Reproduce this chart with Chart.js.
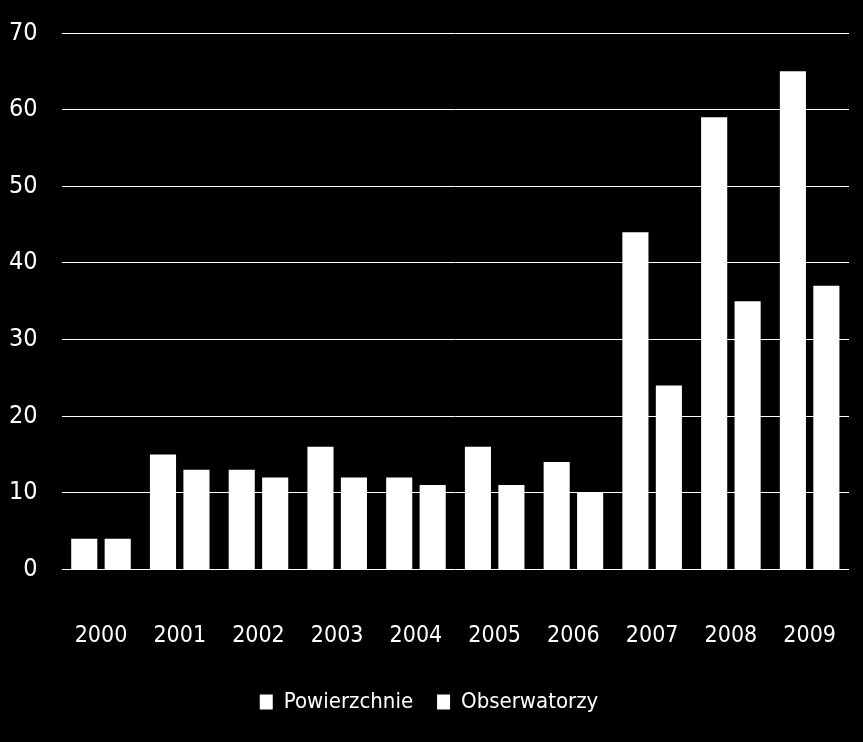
<!DOCTYPE html>
<html>
<head>
<meta charset="utf-8">
<script src="https://cdn.jsdelivr.net/npm/chart.js@4/dist/chart.umd.min.js"></script>
<style>
  html, body { margin: 0; padding: 0; background: #000; overflow: hidden; }
  #wrap { width: 863px; height: 742px; }
</style>
</head>
<body>
<div id="wrap"><canvas id="chart" width="863" height="742"></canvas></div>
<script>
const years = ["2000", "2001", "2002", "2003", "2004", "2005", "2006", "2007", "2008", "2009"];
const powierzchnie = [4, 15, 13, 16, 12, 16, 14, 44, 59, 65];
const obserwatorzy = [4, 13, 12, 12, 11, 11, 10, 24, 35, 37];

const FONT = "'Liberation Sans Narrow', 'DejaVu Sans Condensed', 'Liberation Sans', sans-serif";

new Chart(document.getElementById("chart"), {
  type: "bar",
  data: {
    labels: years,
    datasets: [
      { label: "Powierzchnie", data: powierzchnie, backgroundColor: "#fff" },
      { label: "Obserwatorzy", data: obserwatorzy, backgroundColor: "#fff" },
    ],
  },
  options: {
    responsive: false,
    animation: false,
    categoryPercentage: 0.85,
    barPercentage: 0.78,
    layout: { padding: { top: 33, right: 14, left: 9, bottom: 19 } },
    plugins: {
      tooltip: { enabled: false },
      legend: {
        position: "bottom",
        labels: {
          color: "#fff",
          font: { family: FONT, size: 22 },
          boxWidth: 13,
          boxHeight: 15,
          padding: 24,
        },
      },
    },
    scales: {
      x: {
        grid: { display: false },
        border: { display: false },
        ticks: { color: "#fff", font: { family: FONT, size: 23 }, padding: 45 },
        afterFit: (s) => {
          // la etiqueta queda abajo, pero sin el hueco extra debajo
          s.paddingLeft = 0;
          s.paddingRight = 0;
          s.height -= 28;
        },
      },
      y: {
        min: 0,
        max: 70,
        ticks: { stepSize: 10, color: "#fff", font: { family: FONT, size: 25 }, padding: 24 },
        grid: { color: "#fff", lineWidth: 1, drawTicks: false },
        border: { display: false },
        afterFit: (s) => {
          s.paddingTop = 0;
          s.width -= 24;
        },
      },
    },
  },
});
</script>
</body>
</html>
